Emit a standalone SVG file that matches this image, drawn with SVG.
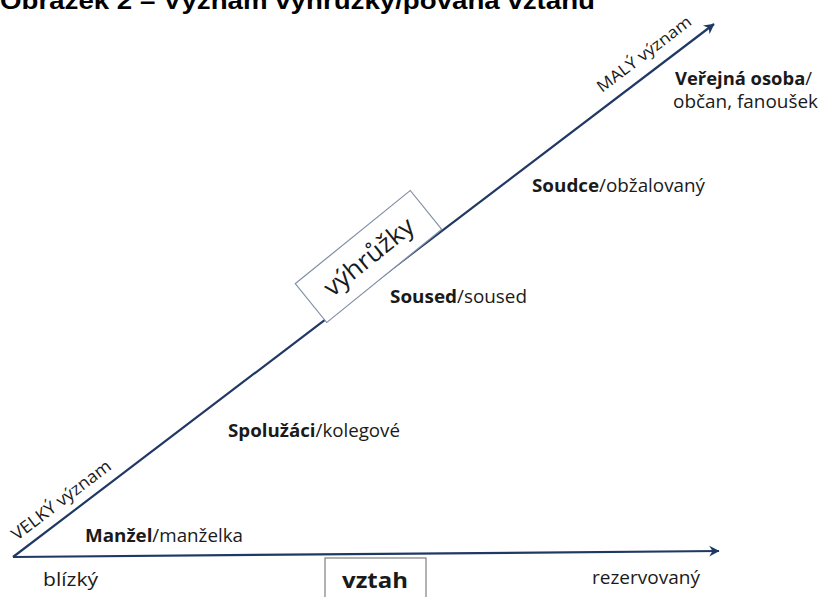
<svg xmlns="http://www.w3.org/2000/svg" width="819" height="597" viewBox="0 0 819 597">
<defs>
<marker id="ah" viewBox="0 0 12 12" refX="10" refY="6" markerWidth="13" markerHeight="13" orient="auto" markerUnits="userSpaceOnUse">
<path d="M1,1 L10.5,6 L1,11 L4,6 Z" fill="#203864"/>
</marker>
<style>
.ln{stroke:#203864;stroke-width:2.2;fill:none}
.t{font-family:"Open Sans",Lato,"Liberation Sans",sans-serif;font-size:18px;fill:#1a1a1a}
.b{font-weight:bold}
.box{fill:#fff;stroke:#8090a8;stroke-width:1.2}
.title{font-family:"Liberation Sans",Arial,sans-serif;font-weight:bold;font-size:24px;fill:#000}
</style>
</defs>
<rect width="819" height="597" fill="#fff"/>
<text class="title" x="0" y="9" textLength="595" lengthAdjust="spacingAndGlyphs">Obrázek 2 – Význam výhrůžky/povaha vztahu</text>
<g id="connectors">
<line class="ln" x1="13" y1="557" x2="714" y2="24" marker-end="url(#ah)"/>
<line class="ln" x1="13" y1="557" x2="719" y2="551" marker-end="url(#ah)"/>
</g>
<g id="axis-labels">
<text class="t" transform="translate(17,541) rotate(-37.3)" style="font-size:17px" textLength="120" lengthAdjust="spacingAndGlyphs">VELKÝ význam</text>
<text class="t" transform="translate(602,93) rotate(-37.3)" style="font-size:16px" textLength="114" lengthAdjust="spacingAndGlyphs">MALÝ význam</text>
</g>
<g id="node-vyhruzky">
<rect class="box" x="-74" y="-25" width="148" height="50" transform="translate(368.5,256.5) rotate(-39)"/>
<text class="t" transform="translate(368.5,256.5) rotate(-39)" x="-54" y="9" style="font-size:25px" textLength="108" lengthAdjust="spacingAndGlyphs">výhrůžky</text>
</g>
<g id="node-verejna">
<text class="t" x="675" y="85" textLength="137" lengthAdjust="spacingAndGlyphs"><tspan class="b">Veřejná osoba</tspan>/</text>
<text class="t" x="673" y="108" textLength="145" lengthAdjust="spacingAndGlyphs">občan, fanoušek</text>
</g>
<g id="node-soudce"><text class="t" x="532" y="192" textLength="173" lengthAdjust="spacingAndGlyphs"><tspan class="b">Soudce</tspan>/obžalovaný</text></g>
<g id="node-soused"><text class="t" x="390" y="303" textLength="137" lengthAdjust="spacingAndGlyphs"><tspan class="b">Soused</tspan>/soused</text></g>
<g id="node-spoluzaci"><text class="t" x="228" y="437" textLength="172" lengthAdjust="spacingAndGlyphs"><tspan class="b">Spolužáci</tspan>/kolegové</text></g>
<g id="node-manzel"><text class="t" x="85" y="542" textLength="158" lengthAdjust="spacingAndGlyphs"><tspan class="b">Manžel</tspan>/manželka</text></g>
<g id="node-blizky"><text class="t" x="43" y="586" textLength="55" lengthAdjust="spacingAndGlyphs">blízký</text></g>
<g id="node-rezervovany"><text class="t" x="592" y="584" textLength="108" lengthAdjust="spacingAndGlyphs">rezervovaný</text></g>
<g id="node-vztah">
<rect class="box" x="325" y="558" width="101" height="50" style="stroke:#7f7f7f"/>
<text class="t b" x="342" y="588" style="font-size:22px" textLength="66" lengthAdjust="spacingAndGlyphs">vztah</text>
</g>
</svg>
